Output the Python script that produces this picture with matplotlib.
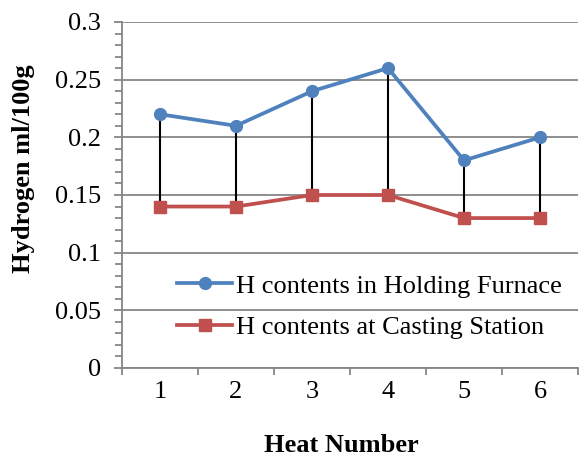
import numpy as np
import matplotlib
matplotlib.use('Agg')
import matplotlib.pyplot as plt
from matplotlib.ticker import MultipleLocator, FixedLocator

# heat numbers and hydrogen readings
heats = [1, 2, 3, 4, 5, 6]
h_furnace = [0.22, 0.21, 0.24, 0.26, 0.18, 0.20]
h_casting = [0.14, 0.14, 0.15, 0.15, 0.13, 0.13]
lbl_furnace = 'H contents in Holding Furnace'
lbl_casting = 'H contents at Casting Station'

plt.rcParams['font.family'] = ['Liberation Serif', 'DejaVu Serif']
plt.rcParams['font.size'] = 19

grey = '#868686'
fig = plt.figure(figsize=(5.79, 4.58), dpi=100)
ax = fig.add_axes([122 / 579, 90 / 458, 456 / 579, 346 / 458])

x = np.array(heats)
# drop lines between the two series
ax.vlines(x, h_casting, h_furnace, color='black', lw=1.5, zorder=2)
ax.plot(x, h_furnace, color='#4F81BD', lw=2.7, marker='o', ms=8.5,
        label=lbl_furnace, zorder=3)
ax.plot(x, h_casting, color='#C0504D', lw=2.7, marker='s', ms=8.5,
        label=lbl_casting, zorder=3)

ax.set_xlim(0.5, 6.5)
ax.set_ylim(0, 0.3)
ax.yaxis.set_major_locator(MultipleLocator(0.05))
ax.yaxis.set_minor_locator(MultipleLocator(0.01))
ax.yaxis.set_major_formatter(plt.FuncFormatter(lambda v, p: '0' if v == 0 else f'{v:g}'))
ax.grid(axis='y', which='major', color=grey, lw=1.3)
ax.set_axisbelow(True)

# category ticks between heats, labels centred on heats
ax.xaxis.set_major_locator(FixedLocator(np.arange(0.5, 7, 1)))
ax.xaxis.set_major_formatter(plt.NullFormatter())
ax.xaxis.set_minor_locator(FixedLocator(heats))
ax.xaxis.set_minor_formatter(plt.FixedFormatter([str(h) for h in heats]))
ax.tick_params(axis='x', which='major', direction='out', length=5, width=1.3, color=grey)
ax.tick_params(axis='x', which='minor', length=0, pad=9)
ax.tick_params(axis='y', which='major', direction='out', length=6, width=1.3, color=grey, pad=9)
ax.tick_params(axis='y', which='minor', direction='out', length=5, width=1.3, color=grey)

for s in ['top', 'right']:
    ax.spines[s].set_visible(False)
for s in ['left', 'bottom']:
    ax.spines[s].set_color(grey)
    ax.spines[s].set_linewidth(1.3)

ax.legend(loc='center left', bbox_to_anchor=(177 / 579, 151.5 / 458),
          bbox_transform=fig.transFigure, frameon=False, borderpad=0,
          handlelength=2.1, handletextpad=0.15, labelspacing=0.68,
          borderaxespad=0)

fig.text(24 / 579, 1 - 169 / 458, 'Hydrogen ml/100g', rotation=90,
         ha='center', va='center', fontweight='bold', fontsize=19)
fig.text(341 / 579, 1 - 445 / 458, 'Heat Number', ha='center', va='center',
         fontweight='bold', fontsize=19)

fig.savefig('out.png', dpi=100)
